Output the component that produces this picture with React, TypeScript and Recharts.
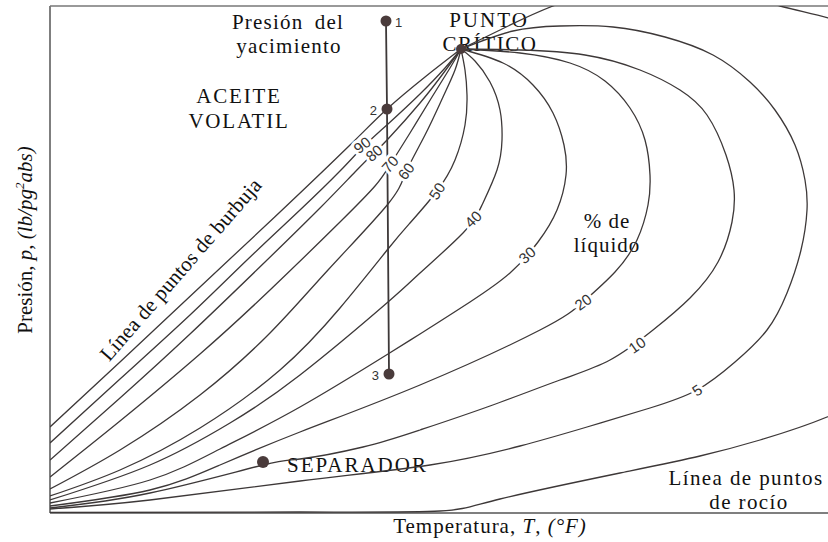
import { ComposedChart, Line, Scatter, XAxis, YAxis, ReferenceLine, Customized } from 'recharts';

// Phase envelope of a volatile oil: bubble-point line, iso-liquid (quality) lines
// and dew-point line, all meeting at the critical point.
// Units: T and p on an arbitrary linear scale (no ticks are shown).

type Pt = { T: number; p: number };
const pts = (rows: number[][]): Pt[] => rows.map(([T, p]) => ({ T, p }));

const T_MAX = 778;
const P_MAX = 507;

const bubbleLine = pts([[0, 86], [70, 151], [150, 226], [230, 301], [300, 368], [337, 404], [375, 436], [411, 464]]);
const liq90 = pts([[0, 70], [70, 134], [140, 198], [197, 253], [250, 303], [290, 342], [312, 365], [338, 389], [370, 419], [395, 445], [411, 464]]);
const liq80 = pts([[0, 53], [70, 115], [140, 179], [215, 251], [270, 305], [305, 341], [324, 360], [338, 374], [370, 410], [395, 442], [411, 464]]);
const liq70 = pts([[0, 36], [70, 92], [150, 159], [220, 223], [290, 291], [325, 327], [340, 348], [360, 380], [382, 416], [400, 445], [411, 464]]);
const liq60 = pts([[0, 24], [70, 63], [150, 118], [220, 180], [278, 243], [338, 309], [356, 341], [375, 378], [393, 416], [405, 443], [411, 464]]);
const liq50 = pts([[0, 17], [70, 43], [150, 85], [230, 143], [290, 205], [338, 264], [360, 290], [387, 322], [405, 353], [415, 388], [417, 418], [415, 443], [411, 464]]);
const liq40 = pts([[0, 13], [100, 48], [180, 90], [250, 138], [338, 211], [370, 240], [413, 280], [432, 308], [447, 343], [452, 373], [450, 403], [440, 431], [425, 452], [411, 464]]);
const liq30 = pts([[0, 10], [100, 33], [170, 64], [250, 106], [338, 159], [370, 179], [420, 211], [460, 240], [488, 271], [507, 303], [516, 338], [514, 368], [503, 400], [483, 428], [453, 450], [411, 464]]);
const liq20 = pts([[0, 7], [100, 23], [170, 48], [250, 81], [370, 128], [490, 183], [533, 211], [565, 241], [587, 273], [598, 308], [600, 338], [595, 373], [580, 405], [555, 432], [520, 450], [470, 460], [411, 464]]);
const liq10 = pts([[0, 5], [100, 20], [213, 48], [250, 54], [313, 66], [370, 83], [440, 107], [510, 133], [560, 153], [603, 183], [640, 215], [668, 251], [682, 291], [684, 323], [676, 358], [657, 398], [630, 423], [590, 443], [535, 458], [470, 463], [411, 464]]);
const liq5 = pts([[0, 4], [100, 13], [250, 32], [380, 48], [470, 67], [537, 86], [600, 105], [647, 123], [685, 151], [717, 183], [737, 220], [751, 263], [757, 303], [755, 333], [745, 368], [725, 403], [700, 431], [663, 458], [615, 476], [563, 486], [510, 487], [463, 482], [411, 464]]);
const dewLine = pts([[0, 0.5], [250, 1], [390, 2], [450, 14], [570, 40], [650, 57], [710, 73], [777, 96], [830, 133], [870, 213], [880, 313], [860, 413], [820, 473], [778, 495], [730, 507], [650, 525], [570, 525], [503, 507], [450, 483], [411, 464]]);

const envelope = [bubbleLine, liq90, liq80, liq70, liq60, liq50, liq40, liq30, liq20, liq10, liq5, dewLine];

// % liquid labels sitting on their curves
const qualityLabels = [
  { T: 312, p: 368, text: '90', angle: -38 },
  { T: 324, p: 360, text: '80', angle: -40 },
  { T: 340, p: 349, text: '70', angle: -48 },
  { T: 356, p: 342, text: '60', angle: -52 },
  { T: 387, p: 322, text: '50', angle: -57 },
  { T: 423, p: 294, text: '40', angle: -45 },
  { T: 477, p: 258, text: '30', angle: -42 },
  { T: 533, p: 211, text: '20', angle: -36 },
  { T: 587, p: 168, text: '10', angle: -35 },
  { T: 647, p: 123, text: '5', angle: -35 },
];

// isothermal depletion of the reservoir: 1 -> 2 -> 3, and the separator condition
const reservoirPath = [
  { T: 336, p: 492, name: '1' },
  { T: 337, p: 404, name: '2' },
  { T: 339, p: 139, name: '3' },
];
const separator = [{ T: 213, p: 51 }];
const criticalPoint = [{ T: 411, p: 464 }];

const LINE = '#3d3838';
const DOT = '#4a3b3b';
const SERIF = "'Liberation Serif', 'Times New Roman', serif";
const SANS = "'Liberation Sans', Arial, sans-serif";

const QualityLabel = (props: any) => {
  const { cx, cy, payload } = props;
  return (
    <text
      x={cx}
      y={cy}
      transform={`rotate(${payload.angle} ${cx} ${cy})`}
      textAnchor="middle"
      dominantBaseline="central"
      fontFamily={SANS}
      fontSize={15}
      fill="#333"
      stroke="#fff"
      strokeWidth={6}
      paintOrder="stroke"
    >
      {payload.text}
    </text>
  );
};

const WellPoint = (props: any) => {
  const { cx, cy, payload } = props;
  const right = payload.name === '1';
  return (
    <g>
      <circle cx={cx} cy={cy} r={5.5} fill={DOT} />
      <text
        x={right ? cx + 9 : cx - 10}
        y={cy + 1}
        textAnchor={right ? 'start' : 'end'}
        dominantBaseline="central"
        fontFamily={SANS}
        fontSize={13}
        fill="#333"
      >
        {payload.name}
      </text>
    </g>
  );
};

const Dot = (r: number) => (props: any) => <circle cx={props.cx} cy={props.cy} r={r} fill={DOT} />;

const Annotations = () => (
  <g fontFamily={SERIF} fontSize={21} fill="#111">
    <text x={288} y={29} textAnchor="middle" letterSpacing={1.2} wordSpacing={5}>Presión del</text>
    <text x={289} y={53} textAnchor="middle" letterSpacing={1.2}>yacimiento</text>
    <text x={489} y={27} textAnchor="middle" letterSpacing={2}>PUNTO</text>
    <text x={490} y={51} textAnchor="middle" letterSpacing={1.6}>CRÍTICO</text>
    <text x={239} y={103} textAnchor="middle" letterSpacing={1.8}>ACEITE</text>
    <text x={239} y={128} textAnchor="middle" letterSpacing={1.8}>VOLATIL</text>
    <text x={607} y={228} textAnchor="middle" letterSpacing={1}>% de</text>
    <text x={607} y={252} textAnchor="middle" letterSpacing={1}>líquido</text>
    {/* the 10 % line is interrupted behind the separator label */}
    <rect x={270} y={443} width={93} height={25} fill="#fff" />
    <text x={287} y={472} letterSpacing={2}>SEPARADOR</text>
    <text x={746} y={485} textAnchor="middle" letterSpacing={1.4}>Línea de puntos</text>
    <text x={749} y={509} textAnchor="middle" letterSpacing={1.4}>de rocío</text>
    <text x={186} y={274} textAnchor="middle" letterSpacing={0.2} transform="rotate(-49 186 274)">
      Línea de puntos de burbuja
    </text>
    <text x={490} y={533} textAnchor="middle" letterSpacing={1}>
      Temperatura, <tspan fontStyle="italic">T</tspan>, <tspan fontStyle="italic">(°F)</tspan>
    </text>
    <text x={0} y={0} textAnchor="middle" transform="translate(32 240) rotate(-90)">
      Presión, <tspan fontStyle="italic">p</tspan>,{' '}
      <tspan fontStyle="italic">
        (lb/pg<tspan dy={-8} fontSize={13}>2</tspan>
        <tspan dy={8}>abs)</tspan>
      </tspan>
    </text>
  </g>
);

export default function App() {
  return (
    <div style={{ position: 'absolute', left: 0, top: 0, width: 828, height: 542, background: '#fff' }}>
      <ComposedChart width={828} height={542} margin={{ top: 6, right: 0, bottom: 29, left: 50 }}>
        <XAxis type="number" dataKey="T" domain={[0, T_MAX]} allowDataOverflow hide />
        <YAxis type="number" dataKey="p" domain={[0, P_MAX]} allowDataOverflow hide />
        <ReferenceLine x={0} stroke="#555" strokeWidth={1.5} />
        <ReferenceLine y={0} stroke="#555" strokeWidth={1.5} />
        <ReferenceLine y={P_MAX} stroke="#777" strokeWidth={1.5} />
        {envelope.map((data, i) => (
          <Line
            key={i}
            data={data}
            dataKey="p"
            type="natural"
            stroke={LINE}
            strokeWidth={1.3}
            dot={false}
            activeDot={false}
            isAnimationActive={false}
          />
        ))}
        <Line
          data={reservoirPath}
          dataKey="p"
          type="linear"
          stroke={LINE}
          strokeWidth={1.8}
          dot={false}
          activeDot={false}
          isAnimationActive={false}
        />
        <Customized component={Annotations} />
        <Scatter data={qualityLabels} dataKey="p" shape={QualityLabel} isAnimationActive={false} />
        <Scatter data={reservoirPath} dataKey="p" shape={WellPoint} isAnimationActive={false} />
        <Scatter data={separator} dataKey="p" shape={Dot(6)} isAnimationActive={false} />
        <Scatter data={criticalPoint} dataKey="p" shape={Dot(5)} isAnimationActive={false} />
      </ComposedChart>
    </div>
  );
}
